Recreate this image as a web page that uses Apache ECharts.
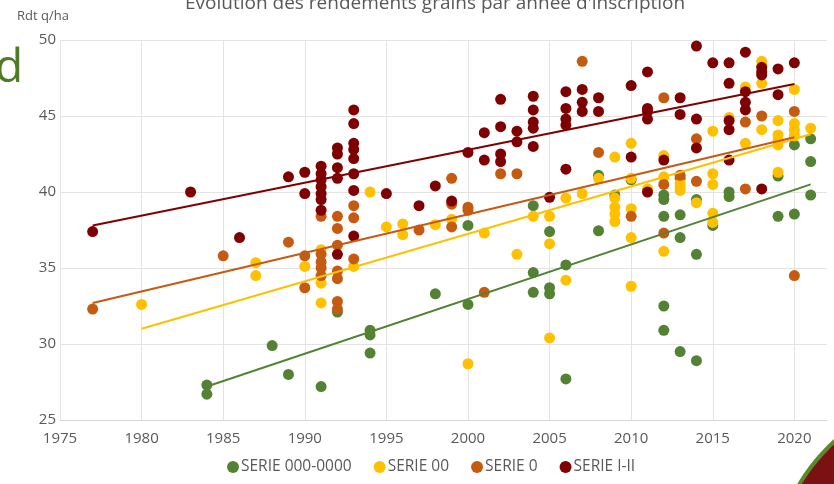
<!DOCTYPE html>
<html>
<head>
<meta charset="utf-8">
<script src="https://cdn.jsdelivr.net/npm/echarts@6/dist/echarts.min.js"></script>
<style>
  html, body { margin: 0; padding: 0; background: #fff; }
  #chart { width: 834px; height: 484px; }
</style>
</head>
<body>
<div id="chart"></div>
<script>
// points: [year, Rdt q/ha]
const serieNames = ['SERIE 000-0000', 'SERIE 00', 'SERIE 0', 'SERIE I-II'];
const serieColors = ['#548235', '#FFC000', '#C55A11', '#7F0000'];

const serie0000 = [
  [1984, 27.3], [1984, 26.7], [1988, 29.9], [1989, 28.0], [1991, 27.2], [1992, 32.1],
  [1994, 30.9], [1994, 30.6], [1994, 29.4], [1998, 33.3], [2000, 37.8], [2000, 32.6],
  [2004, 39.1], [2004, 34.7], [2004, 33.4], [2005, 37.4], [2005, 33.7], [2005, 33.3],
  [2006, 35.2], [2006, 27.7], [2008, 41.1], [2008, 37.45], [2009, 39.8], [2010, 40.8],
  [2012, 39.8], [2012, 39.5], [2012, 38.4], [2012, 32.5], [2012, 30.9], [2013, 40.9],
  [2013, 38.5], [2013, 37.0], [2013, 29.5], [2014, 39.5], [2014, 35.9], [2014, 28.9],
  [2015, 37.8], [2016, 40.0], [2016, 39.7], [2019, 41.05], [2019, 38.4], [2020, 43.1],
  [2020, 38.55], [2021, 43.5], [2021, 42.0], [2021, 39.8]
];

const serie00 = [
  [1980, 32.6], [1987, 35.35], [1987, 34.5], [1990, 35.1], [1991, 36.2], [1991, 34.0],
  [1991, 32.7], [1993, 35.1], [1994, 40.0], [1995, 37.7], [1996, 37.9], [1996, 37.2],
  [1998, 37.85], [1999, 38.2], [2000, 28.7], [2001, 37.3], [2003, 35.9], [2004, 38.4],
  [2005, 38.4], [2005, 36.6], [2005, 30.4], [2006, 39.6], [2006, 34.2], [2007, 39.9],
  [2008, 40.9], [2009, 42.3], [2009, 39.6], [2009, 39.0], [2009, 38.55], [2009, 38.05],
  [2010, 43.2], [2010, 40.9], [2010, 38.9], [2010, 37.0], [2010, 33.8], [2011, 40.2],
  [2012, 42.4], [2012, 41.0], [2012, 36.1], [2013, 40.6], [2013, 40.35], [2013, 40.1],
  [2014, 39.3], [2015, 44.0], [2015, 41.2], [2015, 40.5], [2015, 38.6], [2015, 38.0],
  [2016, 44.9], [2017, 46.9], [2017, 43.2], [2018, 48.6], [2018, 48.3], [2018, 47.15],
  [2018, 44.1], [2019, 44.7], [2019, 43.75], [2019, 43.4], [2019, 43.1], [2019, 41.3],
  [2020, 46.75], [2020, 44.5], [2020, 44.1], [2020, 43.7], [2021, 44.2]
];

const serie0 = [
  [1977, 32.3], [1985, 35.8], [1989, 36.7], [1990, 35.8], [1990, 33.7], [1991, 38.4],
  [1991, 35.9], [1991, 35.4], [1991, 35.0], [1991, 34.5], [1992, 38.4], [1992, 37.6],
  [1992, 36.5], [1992, 34.8], [1992, 34.3], [1992, 32.8], [1992, 32.3], [1993, 39.1],
  [1993, 38.3], [1993, 35.6], [1997, 37.5], [1999, 40.9], [1999, 39.2], [1999, 37.7],
  [2000, 39.0], [2000, 38.8], [2001, 33.4], [2002, 41.2], [2003, 41.2], [2007, 48.6],
  [2008, 42.6], [2010, 38.4], [2012, 46.2], [2012, 40.5], [2012, 37.3], [2013, 41.1],
  [2014, 43.5], [2014, 40.7], [2017, 44.6], [2017, 40.2], [2018, 45.0], [2020, 45.3],
  [2020, 34.5]
];

const serieI_II = [
  [1977, 37.4], [1983, 40.0], [1986, 37.0], [1989, 41.0], [1990, 41.3], [1990, 39.9],
  [1991, 41.7], [1991, 41.2], [1991, 40.8], [1991, 40.35], [1991, 39.9], [1991, 39.5],
  [1991, 38.8], [1992, 42.9], [1992, 42.5], [1992, 41.6], [1992, 40.9], [1992, 35.9],
  [1993, 45.4], [1993, 44.5], [1993, 43.2], [1993, 42.8], [1993, 42.2], [1993, 41.2],
  [1993, 40.1], [1993, 37.1], [1995, 39.9], [1997, 39.1], [1998, 40.4], [1999, 39.4],
  [2000, 42.6], [2001, 43.9], [2001, 42.1], [2002, 46.1], [2002, 44.3], [2002, 42.5],
  [2002, 42.0], [2003, 44.0], [2003, 43.3], [2004, 46.3], [2004, 45.4], [2004, 44.6],
  [2004, 44.2], [2004, 43.0], [2005, 39.65], [2006, 46.6], [2006, 45.5], [2006, 44.8],
  [2006, 44.4], [2006, 41.5], [2007, 46.75], [2007, 45.9], [2007, 45.3], [2008, 46.2],
  [2008, 45.3], [2010, 47.0], [2010, 42.3], [2011, 47.9], [2011, 45.5], [2011, 45.3],
  [2011, 44.8], [2011, 40.0], [2012, 42.1], [2013, 46.2], [2013, 45.1], [2014, 49.6],
  [2014, 44.8], [2014, 42.9], [2015, 48.5], [2016, 48.5], [2016, 47.15], [2016, 44.7],
  [2016, 44.1], [2016, 42.1], [2017, 49.2], [2017, 46.6], [2017, 45.9], [2017, 45.4],
  [2018, 48.2], [2018, 47.9], [2018, 47.7], [2018, 40.2], [2019, 48.1], [2019, 46.4],
  [2020, 48.5]
];

// trend line ends, as drawn in the picture
const trend0000 = [[1984, 27.2], [2021, 40.5]];
const trend00 = [[1980, 31.0], [2021, 43.8]];
const trend0 = [[1977, 32.7], [2020, 43.6]];
const trendI_II = [[1977, 37.8], [2020, 47.1]];

const pointSets = [serie0000, serie00, serie0, serieI_II];
const trendSets = [trend0000, trend00, trend0, trendI_II];

const font = 'Open Sans';
const grey = '#595959';

const series = [];
pointSets.forEach(function(pts, i) {
  series.push({
    name: serieNames[i],
    type: 'scatter',
    data: pts,
    symbolSize: 11,
    itemStyle: { color: serieColors[i], opacity: 1 },
    z: 2
  });
});
trendSets.forEach(function(pts, i) {
  series.push({
    name: serieNames[i],
    type: 'line',
    data: pts,
    symbol: 'none',
    lineStyle: { color: serieColors[i], width: 2 },
    z: 3
  });
});

const myChart = echarts.init(document.getElementById('chart'), null, { renderer: 'canvas' });

const option = {
  animation: false,
  backgroundColor: '#fff',
  title: {
    text: "Evolution des rendements grains par année d'inscription",
    left: 180,
    top: -11,
    textStyle: { fontFamily: font, fontSize: 19, fontWeight: 'normal', color: grey }
  },
  legend: {
    data: serieNames.map(function(n, i) { return { name: n, icon: 'circle', itemStyle: { color: serieColors[i] } }; }),
    bottom: 4,
    left: 222,
    itemWidth: 12,
    itemHeight: 12,
    itemGap: 22,
    textStyle: { fontFamily: font, fontSize: 15.5, color: grey, padding: [0, 0, 0, -3] }
  },
  grid: { left: 60, right: 7, top: 40, bottom: 64, containLabel: false },
  xAxis: {
    type: 'value',
    min: 1975,
    max: 2022,
    interval: 5,
    axisLine: { show: true, lineStyle: { color: '#d9d9d9' } },
    axisTick: { show: false },
    axisLabel: {
      fontFamily: font, fontSize: 15, color: grey, margin: 11, showMaxLabel: false,
      formatter: function(v) { return String(v); }
    },
    splitLine: { show: true, showMaxLine: false, lineStyle: { color: '#e3e3e3' } }
  },
  yAxis: {
    type: 'value',
    min: 25,
    max: 50,
    interval: 5,
    axisLine: { show: false },
    axisTick: { show: false },
    axisLabel: { fontFamily: font, fontSize: 15, color: grey, margin: 4 },
    splitLine: { show: true, lineStyle: { color: '#e3e3e3' } }
  },
  graphic: [
    {
      type: 'text', left: 17, top: 10,
      style: { text: 'Rdt q/ha', font: '13px "Open Sans"', fill: grey }
    },
    {
      type: 'text', left: -5, top: 46,
      style: { text: 'd', font: '46px "Open Sans"', fill: '#4f7a26' }
    },
    {
      type: 'circle',
      shape: { cx: 960, cy: 580, r: 187 },
      style: { fill: '#7b1113', stroke: '#5c8a2a', lineWidth: 4 },
      z: 10
    }
  ],
  series: series
};
myChart.setOption(option);
</script>
</body>
</html>
